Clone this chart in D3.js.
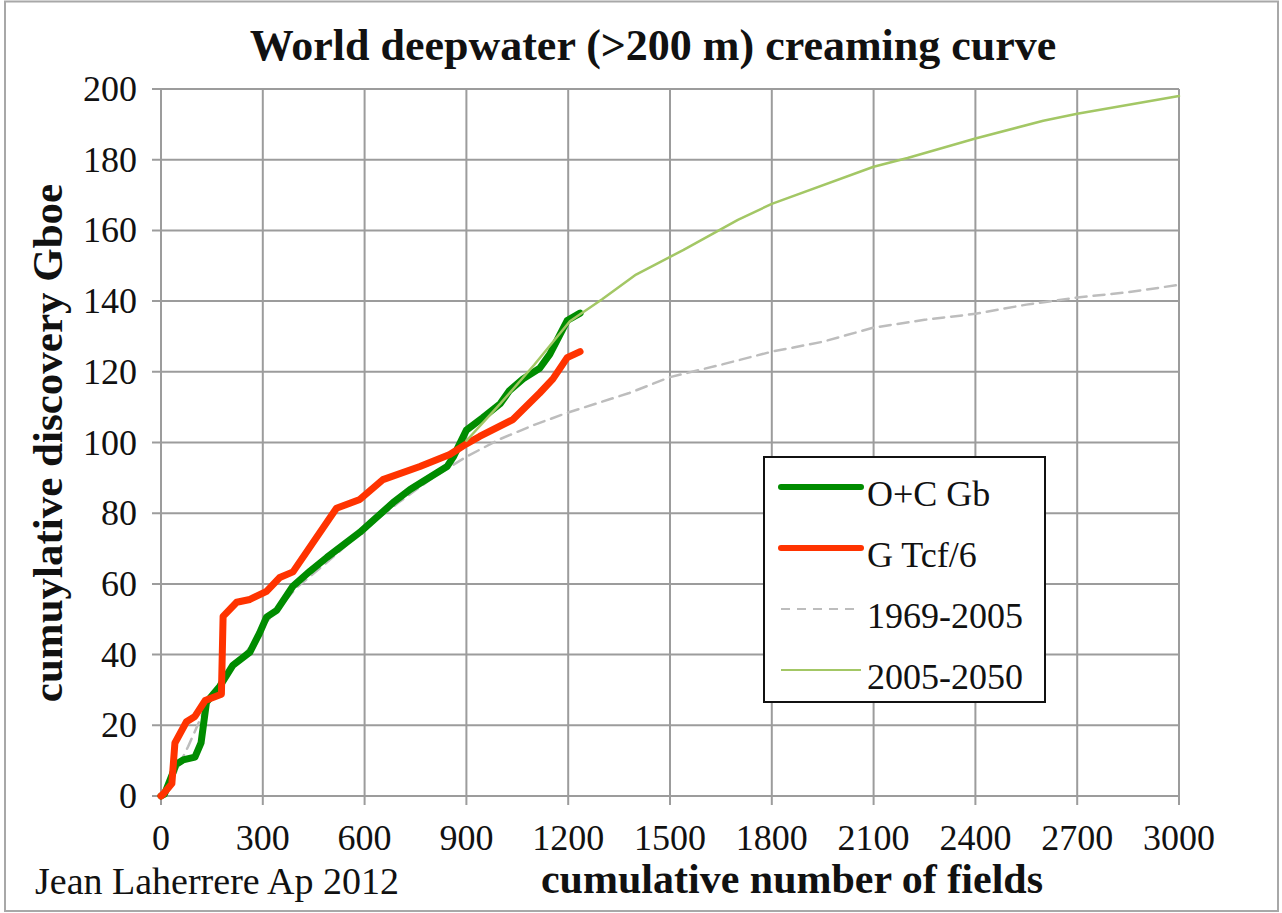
<!DOCTYPE html>
<html>
<head>
<meta charset="utf-8">
<script src="https://cdn.jsdelivr.net/npm/d3@7"></script>
<style>
  body { margin: 0; background: #fff; }
  svg text { font-family: "Liberation Serif", "DejaVu Serif", serif; fill: #111; }
</style>
</head>
<body>
<div id="chartdiv"></div>
<script>
// values: [cumulative fields, cumulative Gboe]
var oilCond = [[0,0],[10,0.5],[45,9],[65,10.2],[100,11],[118,15],[134,26.5],[173,31],[212,37],[262,40.7],
  [290,46],[311,50.6],[341,52.5],[389,59.4],[439,63.6],[489,67.5],[586,74.6],[684,83],[734,86.7],
  [843,93.2],[862,96],[900,103.5],[948,107],[1000,111],[1027,114.7],[1067,118],[1116,121],[1146,125],
  [1197,134.5],[1235,136.6]];
var gasTcf = [[0,0],[6,0.5],[32,3.5],[41,15],[75,21],[100,22.5],[130,27],[178,28.8],[183,50.8],[223,54.8],
  [262,55.6],[311,57.9],[350,61.8],[389,63.4],[517,81.4],[586,83.9],[654,89.5],[763,93.2],[851,96.6],
  [900,99.6],[939,101.7],[1037,106.5],[1116,114],[1155,118],[1197,124],[1235,125.7]];
var fit1969 = [[0,0],[40,6],[80,14],[140,27],[210,36],[270,43],[300,48],[400,59],[500,67],[600,75.5],
  [700,83],[800,90],[900,96],[1000,101],[1100,105],[1200,108.5],[1380,114],[1500,118.5],[1650,122],
  [1800,125.7],[1950,128.5],[2100,132.5],[2250,134.7],[2400,136.4],[2550,139],[2700,141],[2850,142.5],[3000,144.6]];
var fit2005 = [[900,100.5],[1000,111],[1100,122],[1205,134.3],[1300,140.5],[1400,147.5],[1540,154.5],
  [1700,163],[1800,167.5],[2100,178],[2200,180.5],[2400,186],[2600,191],[2700,193],[3000,198]];

var xTicks = [0,300,600,900,1200,1500,1800,2100,2400,2700,3000];
var yTicks = [0,20,40,60,80,100,120,140,160,180,200];

var seriesList = [
  {name: "O+C Gb", data: oilCond, color: "#008c00", width: 7, dash: null},
  {name: "G Tcf/6", data: gasTcf, color: "#ff3300", width: 7, dash: null},
  {name: "1969-2005", data: fit1969, color: "#bdbdbd", width: 2.5, dash: "11,7"},
  {name: "2005-2050", data: fit2005, color: "#a3c765", width: 2.5, dash: null}
];
// draw order: fits first, then thick curves, light green on top of them
var drawOrder = [2, 0, 1, 3];

var svg = d3.select("div#chartdiv").append("svg")
    .attr("width", 1282)
    .attr("height", 913);

// outer frame
svg.append("rect")
    .attr("x", 5).attr("y", 1.5)
    .attr("width", 1273).attr("height", 909.5)
    .attr("fill", "#fff")
    .attr("stroke", "#a8a8a8")
    .attr("stroke-width", 2);

var plotLeft = 161, plotRight = 1179, plotTop = 89, plotBottom = 796;

var x = d3.scaleLinear().domain([0, 3000]).range([plotLeft, plotRight]);
var y = d3.scaleLinear().domain([0, 200]).range([plotBottom, plotTop]);

// grid
svg.append("g").selectAll("line")
    .data(xTicks)
    .enter()
    .append("line")
    .attr("x1", function (d) { return x(d); })
    .attr("x2", function (d) { return x(d); })
    .attr("y1", plotTop)
    .attr("y2", plotBottom + 9)
    .attr("stroke", "#9c9c9c")
    .attr("stroke-width", 2);

svg.append("g").selectAll("line")
    .data(yTicks)
    .enter()
    .append("line")
    .attr("x1", plotLeft - 9)
    .attr("x2", plotRight)
    .attr("y1", function (d) { return y(d); })
    .attr("y2", function (d) { return y(d); })
    .attr("stroke", "#9c9c9c")
    .attr("stroke-width", 2);

// tick labels
svg.append("g").selectAll("text")
    .data(xTicks)
    .enter()
    .append("text")
    .attr("x", function (d) { return x(d); })
    .attr("y", 850)
    .attr("text-anchor", "middle")
    .attr("font-size", 36)
    .text(function (d) { return d; });

svg.append("g").selectAll("text")
    .data(yTicks)
    .enter()
    .append("text")
    .attr("x", 137)
    .attr("y", function (d) { return y(d) + 12; })
    .attr("text-anchor", "end")
    .attr("font-size", 36)
    .text(function (d) { return d; });

// series
var line = d3.line()
    .x(function (d) { return x(d[0]); })
    .y(function (d) { return y(d[1]); });

drawOrder.forEach(function (i) {
    var s = seriesList[i];
    svg.append("path")
        .datum(s.data)
        .attr("d", line)
        .attr("fill", "none")
        .attr("stroke", s.color)
        .attr("stroke-width", s.width)
        .attr("stroke-linejoin", "round")
        .attr("stroke-linecap", "round")
        .attr("stroke-dasharray", s.dash);
});

// legend
var legend = svg.append("g");
legend.append("rect")
    .attr("x", 764).attr("y", 457)
    .attr("width", 281).attr("height", 245)
    .attr("fill", "#fff")
    .attr("stroke", "#111")
    .attr("stroke-width", 2);

var rows = legend.selectAll("g.row")
    .data(seriesList)
    .enter()
    .append("g")
    .classed("row", true)
    .attr("transform", function (d, i) { return "translate(0," + (487 + i * 61) + ")"; });

rows.append("line")
    .attr("x1", 781).attr("x2", 861)
    .attr("y1", 0).attr("y2", 0)
    .attr("stroke", function (d) { return d.color; })
    .attr("stroke-width", function (d) { return d.width === 7 ? 6 : 2; })
    .attr("stroke-linecap", function (d) { return d.width === 7 ? "round" : "butt"; })
    .attr("stroke-dasharray", function (d) { return d.dash ? "9,7" : null; });

rows.append("text")
    .attr("x", 867).attr("y", 19)
    .attr("font-size", 36)
    .text(function (d) { return d.name; });

// titles
svg.append("text")
    .attr("x", 653).attr("y", 60)
    .attr("text-anchor", "middle")
    .attr("font-size", 44)
    .attr("font-weight", "bold")
    .text("World deepwater (>200 m) creaming curve");

svg.append("text")
    .attr("transform", "translate(62,443) rotate(-90)")
    .attr("text-anchor", "middle")
    .attr("font-size", 43)
    .attr("font-weight", "bold")
    .text("cumuylative discovery Gboe");

svg.append("text")
    .attr("x", 792).attr("y", 893)
    .attr("text-anchor", "middle")
    .attr("font-size", 42)
    .attr("font-weight", "bold")
    .text("cumulative number of fields");

svg.append("text")
    .attr("x", 35).attr("y", 894)
    .attr("font-size", 38)
    .text("Jean Laherrere Ap 2012");
</script>
</body>
</html>
